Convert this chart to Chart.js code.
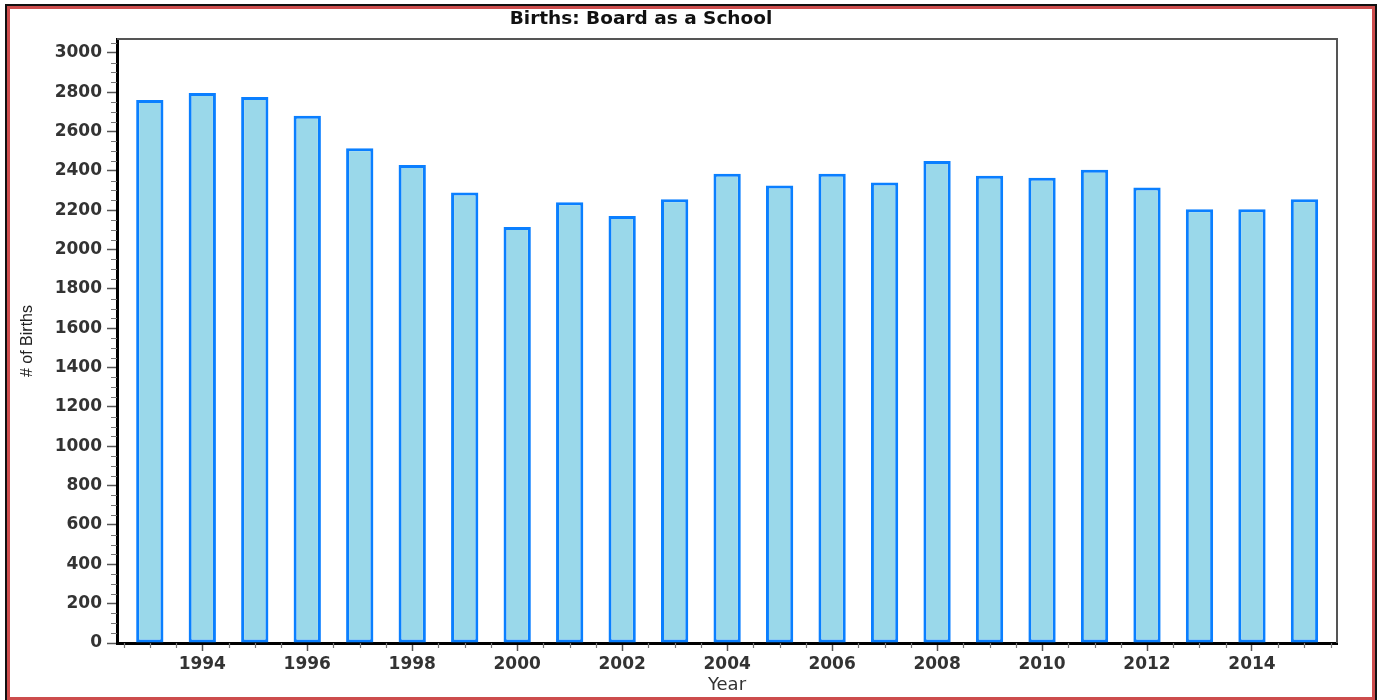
<!DOCTYPE html>
<html>
<head>
<meta charset="utf-8">
<script src="https://cdn.jsdelivr.net/npm/chart.js@4.4.1/dist/chart.umd.min.js"></script>
<style>
  html, body { margin: 0; padding: 0; background: #fff; }
  #wrap { position: relative; width: 1382px; height: 700px; overflow: hidden; }
  #frame { position: absolute; left: 5px; top: 4px; width: 1372px; height: 698px; box-sizing: border-box; border: 2px solid #111; }
  #frame-inner { position: absolute; left: 0; top: 0; right: 0; bottom: 0; border: 3px solid #cd4d4d; }
  #title { position: absolute; left: 0; top: 7px; width: 1282px; text-align: center;
           font: bold 18.5px "DejaVu Sans", sans-serif; color: #111; line-height: 22px; }
  canvas { position: absolute; left: 0; top: 0; }
</style>
</head>
<body>
<div id="wrap">
  <canvas id="chart" width="1382" height="700"></canvas>
  <div id="frame"><div id="frame-inner"></div></div>
  <div id="title">Births: Board as a School</div>
</div>
<script>
// data
const years = [1993, 1994, 1995, 1996, 1997, 1998, 1999, 2000, 2001, 2002, 2003, 2004,
               2005, 2006, 2007, 2008, 2009, 2010, 2011, 2012, 2013, 2014, 2015];
const births = [2760, 2795, 2775, 2680, 2515, 2430, 2290, 2115, 2240, 2170, 2255, 2385,
                2325, 2385, 2340, 2450, 2375, 2365, 2405, 2315, 2205, 2205, 2255];
const xTickLabels = ['1994', '1996', '1998', '2000', '2002', '2004', '2006', '2008', '2010', '2012', '2014'];
const yTickLabels = ['0', '200', '400', '600', '800', '1000', '1200', '1400', '1600', '1800',
                     '2000', '2200', '2400', '2600', '2800', '3000'];

const labelFont = { family: 'DejaVu Sans', size: 17, weight: 'bold' };

// short minor ticks + top/right frame of the plot box
const plotExtras = {
    id: 'plotExtras',
    afterDraw(chart) {
        const { ctx, chartArea: area, scales } = chart;
        ctx.save();
        ctx.strokeStyle = '#555';
        ctx.lineWidth = 2;
        ctx.beginPath();
        ctx.moveTo(area.left, area.top);
        ctx.lineTo(area.right, area.top);
        ctx.lineTo(area.right, area.bottom);
        ctx.stroke();

        ctx.strokeStyle = '#777';
        ctx.lineWidth = 1.2;
        ctx.beginPath();
        for (let v = 50; v < 3070; v += 50) {
            if (v % 200 === 0) continue;
            const py = Math.round(scales.y.getPixelForValue(v)) + 0.5;
            ctx.moveTo(area.left - 6, py);
            ctx.lineTo(area.left, py);
        }
        for (let v = 1992.5; v <= 2015.5; v += 0.5) {
            if (v % 2 === 0) continue;
            const px = Math.round(scales.x.getPixelForValue(v)) + 0.5;
            ctx.moveTo(px, area.bottom);
            ctx.lineTo(px, area.bottom + 5);
        }
        ctx.stroke();
        ctx.restore();
    }
};

const chart = new Chart(document.getElementById('chart'), {
    type: 'bar',
    data: {
        datasets: [{
            label: 'Births',
            data: years.map((yr, i) => ({ x: yr, y: births[i] })),
            backgroundColor: '#9ad8ea',
            borderColor: '#0a7fff',
            borderWidth: 3,
            borderSkipped: false,
            barPercentage: 0.52,
            categoryPercentage: 1
        }]
    },
    options: {
        responsive: false,
        animation: false,
        layout: { padding: { top: 39, right: 45, left: 0, bottom: 0 } },
        plugins: {
            legend: { display: false },
            tooltip: { enabled: false }
        },
        scales: {
            x: {
                type: 'linear',
                offset: false,
                min: 1992.375,
                max: 2015.62,
                afterBuildTicks: s => { s.ticks = xTickLabels.map(l => ({ value: Number(l) })); },
                afterFit: s => { s.height = 57; },
                ticks: {
                    callback: (v, i) => xTickLabels[i],
                    color: '#333',
                    font: labelFont,
                    padding: 3,
                    maxRotation: 0,
                    autoSkip: false
                },
                grid: { drawOnChartArea: false, offset: false, tickLength: 8, tickColor: '#555', tickWidth: 1.5 },
                border: { color: '#000', width: 3 },
                title: {
                    display: true,
                    text: 'Year',
                    color: '#333',
                    font: { family: 'DejaVu Sans', size: 18 },
                    padding: { top: 0, bottom: 4 }
                }
            },
            y: {
                min: 0,
                max: 3070,
                afterBuildTicks: s => { s.ticks = yTickLabels.map(l => ({ value: Number(l) })); },
                afterFit: s => { s.width = 117; },
                ticks: {
                    callback: (v, i) => yTickLabels[i],
                    color: '#333',
                    font: labelFont,
                    padding: 5
                },
                grid: { drawOnChartArea: false, tickLength: 10, tickColor: '#555', tickWidth: 1.5 },
                border: { color: '#000', width: 3 },
                title: {
                    display: true,
                    text: '# of Births',
                    color: '#222',
                    font: { family: 'Liberation Sans', size: 16 },
                    padding: { top: 18, bottom: 0 }
                }
            }
        }
    },
    plugins: [plotExtras]
});
</script>
</body>
</html>
